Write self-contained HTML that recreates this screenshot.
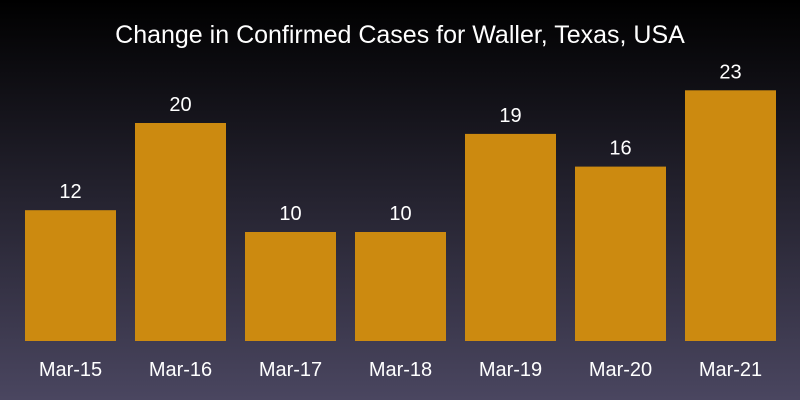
<!DOCTYPE html>
<html><head><meta charset="utf-8"><style>
body{margin:0;width:800px;height:400px;overflow:hidden}
svg{display:block;font-family:"Liberation Sans",sans-serif}
</style></head><body>
<svg id="chart" width="800" height="400">
<defs><linearGradient id="bg" x1="0" y1="0" x2="0" y2="1">
<stop offset="0" stop-color="#000000"/><stop offset="1" stop-color="#4a4660"/></linearGradient></defs>
<rect width="800" height="400" fill="url(#bg)"/>
<text x="400" y="43" text-anchor="middle" fill="#fff" font-size="25">Change in Confirmed Cases for Waller, Texas, USA</text>
<g id="bars"></g>
</svg>
<script>
const categories=["Mar-15","Mar-16","Mar-17","Mar-18","Mar-19","Mar-20","Mar-21"];
const values=[12,20,10,10,19,16,23];
const base=341, perUnit=10.9, x0=25, step=110, bw=91;
const y=v=>base-v*perUnit;
const x=i=>x0+i*step;
const g=document.getElementById('bars');
const NS="http://www.w3.org/2000/svg";
categories.forEach((c,i)=>{
  const r=document.createElementNS(NS,'rect');
  
  
  r.setAttribute('x',x(i));r.setAttribute('y',y(values[i]));
  r.setAttribute('width',bw);r.setAttribute('height',base-y(values[i]));
  r.setAttribute('fill','#cc8a10');g.appendChild(r);
  const t=document.createElementNS(NS,'text');
  
  
  t.setAttribute('x',x(i)+bw/2);t.setAttribute('y',y(values[i])-12);
  t.setAttribute('text-anchor','middle');t.setAttribute('fill','#fff');t.setAttribute('font-size','20');
  t.textContent=values[i];g.appendChild(t);
  const l=document.createElementNS(NS,'text');
  
  
  l.setAttribute('x',x(i)+bw/2);l.setAttribute('y',376);
  l.setAttribute('text-anchor','middle');l.setAttribute('fill','#fff');l.setAttribute('font-size','20');
  l.textContent=c;g.appendChild(l);
});
</script>
</body></html>
